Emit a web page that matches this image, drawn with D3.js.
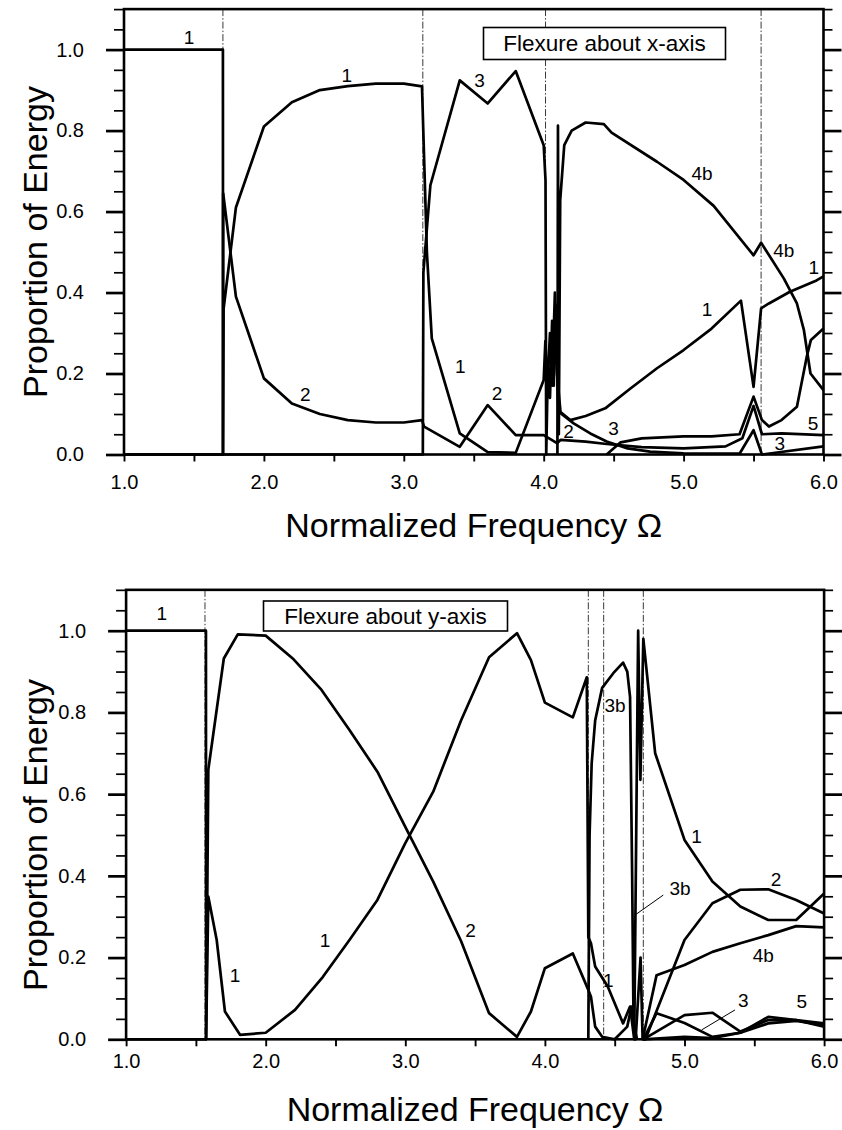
<!DOCTYPE html>
<html><head><meta charset="utf-8">
<script src="https://cdn.jsdelivr.net/npm/d3@7"></script>
<style>
body{margin:0;background:#fff}
svg{display:block}
text{font-family:"Liberation Sans",Arial,Helvetica,sans-serif;fill:#000}
</style>
</head><body>
<svg id="c" width="842" height="1130"></svg>
<script>
// ---------- tick labels ----------
const xTickValues = [1, 2, 3, 4, 5, 6];
const xTickLabels = ["1.0", "2.0", "3.0", "4.0", "5.0", "6.0"];
const yTickValues = [0, 0.2, 0.4, 0.6, 0.8, 1.0];
const yTickLabels = ["0.0", "0.2", "0.4", "0.6", "0.8", "1.0"];
const xTitle = "Normalized Frequency \u03A9";
const yTitle = "Proportion of Energy";

// ---------- top panel: flexure about x-axis ----------
const topTitle = "Flexure about x-axis";
const topResonances = [1.707, 3.136, 4.013, 5.554];
const topMode1 = [[1.0,1.0],[1.707,1.0],[1.708,0.0],[1.712,0.36],[1.8,0.61],[2.0,0.81],[2.2,0.87],[2.4,0.9],[2.6,0.91],[2.8,0.916],[3.0,0.916],[3.13,0.909],[3.165,0.5],[3.2,0.287],[3.4,0.052],[3.6,0.006],[3.8,0.004],[4.0,0.184],[4.012,0.28],[4.025,0.16],[4.045,0.30],[4.06,0.17],[4.08,0.40],[4.095,0.2],[4.12,0.105],[4.19,0.085],[4.3,0.095],[4.44,0.114],[4.62,0.163],[4.81,0.213],[5.0,0.258],[5.2,0.311],[5.41,0.38],[5.5,0.167],[5.554,0.361],[5.61,0.373],[5.76,0.402],[5.95,0.43],[6.0,0.44]];
const topMode2 = [[1.0,0.0],[1.707,0.0],[1.709,0.645],[1.8,0.39],[2.0,0.188],[2.2,0.126],[2.4,0.1],[2.6,0.085],[2.8,0.079],[3.0,0.079],[3.13,0.085],[3.145,0.069],[3.4,0.019],[3.6,0.122],[3.8,0.048],[4.0,0.048],[4.095,0.028],[4.12,0.036],[4.3,0.032],[4.45,0.026],[4.7,0.018],[5.0,0.015],[5.3,0.02],[5.42,0.04],[5.5,0.12],[5.56,0.05],[5.7,0.052],[6.0,0.048]];
const topMode3 = [[1.0,0.0],[3.136,0.0],[3.14,0.45],[3.19,0.665],[3.4,0.924],[3.6,0.867],[3.8,0.947],[4.0,0.764],[4.013,0.677],[4.018,0.0],[4.03,0.22],[4.045,0.14],[4.06,0.33],[4.072,0.17],[4.085,0.37],[4.1,0.15],[4.107,0.106],[4.214,0.077],[4.333,0.052],[4.45,0.032],[4.6,0.015],[4.76,0.007],[5.0,0.003],[5.4,0.002],[5.5,0.06],[5.56,0.0],[6.0,0.02]];
const topMode4b = [[4.098,0.0],[4.102,0.812],[4.108,0.05],[4.118,0.628],[4.147,0.764],[4.2,0.80],[4.3,0.82],[4.43,0.816],[4.485,0.795],[4.81,0.723],[5.0,0.678],[5.215,0.614],[5.5,0.492],[5.554,0.523],[5.716,0.435],[5.81,0.373],[5.86,0.307],[5.907,0.2],[6.0,0.159]];
const topMode5 = [[4.45,0.0],[4.55,0.03],[4.7,0.04],[5.0,0.045],[5.2,0.045],[5.4,0.05],[5.5,0.143],[5.56,0.085],[5.61,0.069],[5.7,0.085],[5.81,0.118],[5.88,0.241],[5.91,0.283],[6.0,0.311]];
const topLabels = [["1",1.465,1.029],["1",2.593,0.937],["2",2.295,0.147],["3",3.541,0.924],["4b",5.132,0.694],["4b",5.716,0.505],["1",5.931,0.463],["1",3.403,0.217],["2",3.666,0.151],["1",5.168,0.357],["2",4.178,0.056],["3",4.50,0.065],["5",5.926,0.077],["3",5.687,0.026]];

// ---------- bottom panel: flexure about y-axis ----------
const botTitle = "Flexure about y-axis";
const botResonances = [1.565, 4.311, 4.421, 4.705];
const botMode1 = [[1.0,1.0],[1.572,1.0],[1.573,0.0],[1.589,0.349],[1.649,0.243],[1.708,0.068],[1.816,0.011],[2.0,0.016],[2.21,0.072],[2.41,0.153],[2.6,0.243],[2.8,0.341],[3.0,0.48],[3.2,0.606],[3.4,0.781],[3.6,0.935],[3.8,0.994],[3.9,0.928],[4.0,0.824],[4.2,0.788],[4.3,0.886],[4.311,0.25],[4.33,0.235],[4.36,0.178],[4.45,0.129],[4.56,0.039],[4.61,0.08],[4.64,0.0],[4.668,1.0],[4.684,0.635],[4.705,0.98],[4.79,0.7],[5.0,0.488],[5.2,0.386],[5.4,0.325],[5.6,0.292],[5.8,0.292],[6.0,0.357]];
const botMode2 = [[1.0,0.0],[1.573,0.0],[1.589,0.66],[1.70,0.932],[1.80,0.991],[2.0,0.988],[2.2,0.93],[2.4,0.855],[2.6,0.757],[2.8,0.655],[3.0,0.52],[3.2,0.386],[3.4,0.24],[3.6,0.064],[3.8,0.006],[3.9,0.068],[4.0,0.174],[4.2,0.21],[4.311,0.121],[4.33,0.104],[4.36,0.031],[4.41,0.006],[4.5,0.0],[4.59,0.031],[4.62,0.08],[4.65,0.0],[4.685,0.2],[4.70,0.0],[4.72,0.0],[5.0,0.243],[5.2,0.333],[5.4,0.366],[5.6,0.367],[5.8,0.341],[6.0,0.308]];
const botMode3b = [[4.311,0.0],[4.32,0.5],[4.335,0.675],[4.36,0.78],[4.41,0.86],[4.49,0.896],[4.56,0.922],[4.59,0.9],[4.61,0.838],[4.625,0.4],[4.635,0.04],[4.66,0.0]];
const botMode4b = [[4.70,0.0],[4.8,0.157],[5.0,0.182],[5.2,0.214],[5.4,0.235],[5.6,0.255],[5.8,0.277],[6.0,0.274]];
const botMode3 = [[4.705,0.0],[4.8,0.064],[5.0,0.04],[5.2,0.006],[5.4,0.016],[5.6,0.055],[5.8,0.047],[6.0,0.039]];
const botMode5 = [[4.705,0.0],[5.0,0.059],[5.2,0.065],[5.4,0.019],[5.6,0.047],[5.8,0.047],[6.0,0.031]];
const botMode6 = [[4.705,0.0],[5.0,0.006],[5.2,0.003],[5.4,0.016],[5.6,0.039],[5.8,0.045],[6.0,0.035]];
const botLabels = [["1",1.255,1.043],["1",1.78,0.157],["1",2.425,0.243],["2",3.468,0.267],["3b",4.502,0.818],["1",5.087,0.496],["3b",4.968,0.37],["2",5.655,0.392],["4b",5.564,0.206],["3",5.421,0.096],["5",5.84,0.092],["1",4.454,0.145]];
const botLeaders = [[[4.848,0.353],[4.645,0.304]],[[5.362,0.072],[5.123,0.023]]];

const svg = d3.select("#c");

function panel(cfg) {
  const x = d3.scaleLinear().domain([1, 6]).range([cfg.left, cfg.right]);
  const y = d3.scaleLinear().domain([0, 1]).range([cfg.zero, cfg.one]);
  const g = svg.append("g");
  const yTop = y(1.1), yBot = y(0);

  // resonance dash-dot lines
  g.selectAll("line.res").data(cfg.res).join("line")
    .attr("x1", d => x(d)).attr("x2", d => x(d))
    .attr("y1", yTop).attr("y2", yBot)
    .attr("stroke", "#222").attr("stroke-width", 0.9)
    .attr("stroke-dasharray", "7,2,1.5,2");

  // curves
  const line = d3.line().x(d => x(d[0])).y(d => y(d[1]));
  g.selectAll("path.curve").data(cfg.series).join("path")
    .attr("d", line).attr("fill", "none").attr("stroke", "#000")
    .attr("stroke-width", 2.7).attr("stroke-linejoin", "round");

  // frame
  g.append("rect").attr("x", x(1)).attr("y", yTop)
    .attr("width", x(6) - x(1)).attr("height", yBot - yTop)
    .attr("fill", "none").attr("stroke", "#000").attr("stroke-width", 2.6);

  const minorY = d3.range(0, 23).map(k => k * 0.05).filter((v, k) => !(k % 4 === 0 && k <= 20));
  function styleAxis(sel, w, fs) {
    sel.select(".domain").remove();
    sel.selectAll("line").attr("stroke", "#000").attr("stroke-width", w);
    sel.attr("font-family", null).attr("font-size", fs);
    sel.selectAll("text").attr("fill", "#000");
  }
  // left
  g.append("g").attr("transform", `translate(${x(1)},0)`)
    .call(d3.axisLeft(y).tickValues(minorY).tickSize(10).tickFormat(""))
    .call(s => styleAxis(s, 1.7, 20));
  g.append("g").attr("transform", `translate(${x(1)},0)`)
    .call(d3.axisLeft(y).tickValues(yTickValues).tickSize(18).tickPadding(22)
      .tickFormat((d, i) => yTickLabels[i]))
    .call(s => styleAxis(s, 2.7, 20));
  // right
  g.append("g").attr("transform", `translate(${x(6)},0)`)
    .call(d3.axisRight(y).tickValues(minorY).tickSize(9).tickFormat(""))
    .call(s => styleAxis(s, 1.7, 20));
  g.append("g").attr("transform", `translate(${x(6)},0)`)
    .call(d3.axisRight(y).tickValues(yTickValues).tickSize(18).tickFormat(""))
    .call(s => styleAxis(s, 2.7, 20));
  // bottom
  g.append("g").attr("transform", `translate(0,${yBot})`)
    .call(d3.axisBottom(x).tickValues(d3.range(1, 6.01, 0.5)).tickSize(7).tickFormat(""))
    .call(s => styleAxis(s, 1.9, 20));
  g.append("g").attr("transform", `translate(0,${yBot})`)
    .call(d3.axisBottom(x).tickValues(xTickValues).tickSize(0).tickPadding(cfg.xPad)
      .tickFormat((d, i) => xTickLabels[i]))
    .call(s => styleAxis(s, 0, 20));

  // titles
  g.append("text").attr("x", (x(1) + x(6)) / 2).attr("y", cfg.xTitleY)
    .attr("text-anchor", "middle").attr("font-size", 34).text(xTitle);
  g.append("text").attr("transform", `translate(46.5,${cfg.yTitleY}) rotate(-90)`)
    .attr("text-anchor", "middle").attr("font-size", 34).text(yTitle);

  // box label
  g.append("rect").attr("x", cfg.box[0]).attr("y", cfg.box[1])
    .attr("width", cfg.box[2]).attr("height", cfg.box[3])
    .attr("fill", "#fff").attr("stroke", "#000").attr("stroke-width", 1.6);
  g.append("text").attr("x", cfg.box[0] + cfg.box[2] / 2).attr("y", cfg.box[1] + cfg.box[3] / 2)
    .attr("text-anchor", "middle").attr("dominant-baseline", "central")
    .attr("font-size", 22.5).text(cfg.title);

  // curve labels
  g.selectAll("text.lab").data(cfg.labels).join("text")
    .attr("x", d => x(d[1])).attr("y", d => y(d[2]))
    .attr("text-anchor", "middle").attr("dominant-baseline", "central")
    .attr("font-size", 19).text(d => d[0]);
  g.selectAll("line.lead").data(cfg.leaders || []).join("line")
    .attr("x1", d => x(d[0][0])).attr("y1", d => y(d[0][1]))
    .attr("x2", d => x(d[1][0])).attr("y2", d => y(d[1][1]))
    .attr("stroke", "#000").attr("stroke-width", 1);
}

panel({left: 124, right: 823.5, zero: 454.5, one: 49.6, res: topResonances,
  series: [topMode1, topMode2, topMode3, topMode4b, topMode5],
  labels: topLabels, title: topTitle, box: [483.5, 27.5, 242, 32],
  xPad: 20, xTitleY: 537, yTitleY: 242});
panel({left: 126.1, right: 824.1, zero: 1039.3, one: 630.7, res: botResonances,
  series: [botMode1, botMode2, botMode3b, botMode4b, botMode3, botMode5, botMode6],
  labels: botLabels, leaders: botLeaders, title: botTitle, box: [263.5, 601, 244, 30],
  xPad: 15, xTitleY: 1121, yTitleY: 835});
</script>
</body></html>
